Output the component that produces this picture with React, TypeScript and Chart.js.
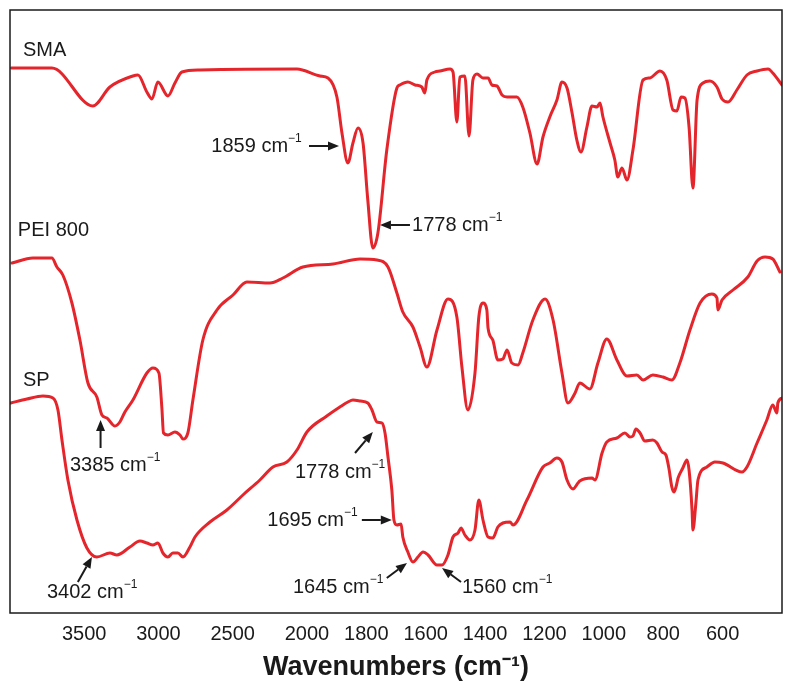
import React, { useEffect, useRef } from "react";
import { Chart, registerables } from "chart.js";
Chart.register(...registerables);

// Wavenumber axis: above 2000 cm-1 the scale is compressed by a factor of two.
const BREAK_WN = 2000;
const X_LEFT_WN = 4000;
const X_RIGHT_WN = 400;
const TICK_WAVENUMBERS = [3500, 3000, 2500, 2000, 1800, 1600, 1400, 1200, 1000, 800, 600];
const Y_MIN = 0;
const Y_MAX = 603;

// [wavenumber (cm-1), transmittance (a.u., offset)]
const SMA: [number, number][] = [
  [3990, 545], [3718, 545], [3442, 507], [3327, 526], [3172, 537], [3138, 538], [3078, 521], [3044, 514],
  [3004, 531], [2936, 517], [2889, 530], [2842, 541], [2721, 543], [2067, 544], [1956, 537], [1929, 535],
  [1899, 516], [1882, 480], [1862, 450], [1845, 470], [1828, 485], [1811, 470], [1795, 413], [1778, 365],
  [1761, 380], [1731, 463], [1697, 525], [1687, 528], [1660, 531], [1636, 528], [1613, 526], [1603, 520],
  [1596, 533], [1569, 541], [1552, 542], [1518, 544], [1508, 541], [1495, 491], [1485, 536], [1468, 537],
  [1454, 477], [1441, 533], [1427, 539], [1407, 535], [1390, 535], [1377, 528], [1360, 527], [1343, 518],
  [1326, 516], [1293, 516], [1273, 506], [1249, 480], [1225, 449], [1205, 476], [1182, 496], [1158, 513],
  [1141, 531], [1124, 525], [1107, 500], [1091, 473], [1077, 461], [1057, 486], [1040, 507], [1023, 506],
  [1013, 510], [1003, 496], [979, 470], [963, 453], [953, 436], [939, 445], [922, 433], [902, 463],
  [868, 533], [845, 535], [811, 542], [788, 533], [767, 503], [754, 502], [740, 516], [727, 515],
  [713, 486], [700, 425], [686, 513], [666, 530], [643, 532], [619, 526], [602, 514], [582, 511],
  [552, 523], [518, 538], [484, 542], [447, 544], [431, 540], [400, 528],
];

const PEI800: [number, number][] = [
  [3987, 350], [3846, 355], [3718, 355], [3684, 346], [3644, 338], [3583, 310], [3529, 273], [3475, 230],
  [3415, 216], [3381, 198], [3347, 195], [3293, 187], [3260, 191], [3226, 201], [3172, 213], [3078, 240],
  [3037, 245], [2997, 240], [2977, 205], [2966, 180], [2936, 178], [2889, 181], [2855, 178], [2835, 174],
  [2802, 180], [2768, 213], [2701, 273], [2606, 303], [2498, 318], [2404, 331], [2249, 330], [2162, 335],
  [2027, 346], [1912, 349], [1821, 354], [1764, 353], [1727, 346], [1697, 320], [1677, 301], [1643, 286],
  [1619, 266], [1596, 246], [1562, 283], [1525, 314], [1495, 296], [1478, 246], [1458, 203], [1434, 240],
  [1421, 296], [1407, 310], [1394, 303], [1390, 285], [1374, 273], [1357, 253], [1340, 254], [1326, 263],
  [1310, 250], [1289, 248], [1273, 260], [1239, 293], [1198, 314], [1171, 293], [1141, 240], [1121, 210],
  [1097, 220], [1081, 230], [1047, 224], [1020, 250], [990, 274], [956, 253], [922, 237], [889, 238],
  [868, 233], [835, 238], [801, 236], [771, 233], [744, 250], [710, 283], [676, 310], [636, 319],
  [619, 315], [616, 303], [602, 313], [565, 323], [515, 336], [484, 352], [457, 356], [431, 354],
  [407, 341],
];

const SP: [number, number][] = [
  [3995, 210], [3886, 214], [3778, 217], [3711, 215], [3677, 203], [3650, 173], [3610, 133], [3549, 93],
  [3482, 65], [3415, 56], [3327, 60], [3280, 58], [3192, 66], [3125, 72], [3078, 70], [3037, 68],
  [3004, 70], [2970, 60], [2936, 56], [2903, 60], [2869, 60], [2835, 56], [2788, 66], [2754, 76],
  [2653, 91], [2539, 103], [2431, 118], [2317, 133], [2229, 146], [2135, 151], [2067, 163], [2000, 181],
  [1933, 197], [1889, 206], [1862, 211], [1845, 213], [1820, 212], [1795, 210], [1781, 203], [1764, 191],
  [1747, 190], [1737, 180], [1727, 156], [1714, 123], [1707, 93], [1697, 88], [1683, 89], [1677, 76],
  [1660, 61], [1643, 51], [1626, 56], [1609, 61], [1592, 58], [1562, 48], [1545, 48], [1525, 58],
  [1508, 76], [1491, 80], [1481, 85], [1468, 78], [1451, 73], [1434, 83], [1421, 113], [1407, 93],
  [1390, 76], [1374, 75], [1357, 86], [1340, 90], [1316, 91], [1306, 88], [1259, 113], [1205, 146],
  [1182, 150], [1158, 155], [1141, 151], [1124, 133], [1104, 124], [1087, 130], [1081, 132], [1040, 135],
  [1030, 133], [1006, 160], [990, 171], [956, 175], [929, 180], [912, 176], [902, 177], [892, 184],
  [878, 180], [862, 172], [835, 173], [821, 170], [804, 161], [791, 158], [781, 145], [771, 126],
  [764, 121], [757, 126], [750, 135], [734, 145], [720, 153], [713, 143], [703, 103], [700, 83],
  [690, 110], [683, 133], [653, 146], [626, 151], [599, 150], [535, 141], [518, 146], [484, 170],
  [451, 193], [431, 208], [417, 200], [414, 210], [400, 215],
];

const SERIES_NAMES = ["SMA", "PEI 800", "SP"];
// [wavenumber, value] of the left/middle of each series name
const SERIES_NAME_POS: [number, number][] = [[3913, 563], [3947, 383], [3913, 233]];

type Ann = { num: string; align: "left" | "right"; tx: number; ty: number; from: [number, number]; to: [number, number] };
const ANNOTATIONS: Ann[] = [
  { num: "1859", align: "right", tx: 2035, ty: 467, from: [1993, 467], to: [1892, 467] },
  { num: "1778", align: "left", tx: 1646, ty: 388, from: [1653, 388], to: [1754, 388] },
  { num: "3385", align: "left", tx: 3596, ty: 148, from: [3390, 165], to: [3390, 193] },
  { num: "1778", align: "left", tx: 2081, ty: 141, from: [1838, 160], to: [1778, 181] },
  { num: "1695", align: "right", tx: 1829, ty: 93, from: [1815, 93], to: [1714, 93] },
  { num: "1645", align: "left", tx: 2094, ty: 26, from: [1731, 35], to: [1663, 50] },
  { num: "3402", align: "left", tx: 3751, ty: 21, from: [3543, 31], to: [3448, 56] },
  { num: "1560", align: "left", tx: 1478, ty: 26, from: [1481, 31], to: [1545, 45] },
];
const UNIT = " cm";
const UNIT_SUP = "\u22121";

function toAxis(w: number) {
  return w > BREAK_WN ? BREAK_WN + (w - BREAK_WN) / 2 : w;
}
function fromAxis(t: number) {
  return t > BREAK_WN ? BREAK_WN + (t - BREAK_WN) * 2 : t;
}

const FONT = '"Liberation Sans", Arial, sans-serif';
const RED = "#e4252b";
const INK = "#1a1a1a";

const overlayPlugin = {
  id: "overlay",
  afterDraw(chart: any) {
    const { ctx, chartArea: a, scales } = chart;
    const xs = scales.x;
    const ys = scales.y;
    const px = (w: number) => xs.getPixelForValue(toAxis(w));
    const py = (v: number) => ys.getPixelForValue(v);
    ctx.save();
    ctx.strokeStyle = INK;
    ctx.lineWidth = 1.5;
    ctx.strokeRect(a.left, a.top, a.right - a.left, a.bottom - a.top);

    ctx.fillStyle = INK;
    ctx.textBaseline = "middle";
    ctx.textAlign = "left";
    ctx.font = `20px ${FONT}`;
    SERIES_NAMES.forEach((n, i) => {
      const [w, v] = SERIES_NAME_POS[i];
      ctx.fillText(n, px(w), py(v));
    });

    ANNOTATIONS.forEach((an) => {
      ctx.font = `20px ${FONT}`;
      const main = an.num + UNIT;
      const mw = ctx.measureText(main).width;
      ctx.font = `12px ${FONT}`;
      const sw = ctx.measureText(UNIT_SUP).width;
      let x0 = px(an.tx);
      const y0 = py(an.ty);
      if (an.align === "right") x0 = x0 - mw - sw;
      ctx.font = `20px ${FONT}`;
      ctx.fillText(main, x0, y0);
      ctx.font = `12px ${FONT}`;
      ctx.fillText(UNIT_SUP, x0 + mw, y0 - 7);

      const x1 = px(an.from[0]);
      const y1 = py(an.from[1]);
      const x2 = px(an.to[0]);
      const y2 = py(an.to[1]);
      const ang = Math.atan2(y2 - y1, x2 - x1);
      const hl = 11;
      const hw = 4.5;
      const bx = x2 - hl * Math.cos(ang);
      const by = y2 - hl * Math.sin(ang);
      ctx.lineWidth = 2;
      ctx.beginPath();
      ctx.moveTo(x1, y1);
      ctx.lineTo(bx, by);
      ctx.stroke();
      ctx.beginPath();
      ctx.moveTo(x2, y2);
      ctx.lineTo(bx + hw * Math.sin(ang), by - hw * Math.cos(ang));
      ctx.lineTo(bx - hw * Math.sin(ang), by + hw * Math.cos(ang));
      ctx.closePath();
      ctx.fill();
    });
    ctx.restore();
  },
};

export default function App() {
  const ref = useRef<HTMLCanvasElement | null>(null);
  useEffect(() => {
    if (!ref.current) return;
    const mk = (d: [number, number][]) => d.map(([w, v]) => ({ x: toAxis(w), y: v }));
    const ds = (label: string, d: [number, number][]) => ({
      label,
      data: mk(d),
      borderColor: RED,
      borderWidth: 3,
      pointRadius: 0,
      fill: false,
      cubicInterpolationMode: "monotone" as const,
      borderJoinStyle: "round" as const,
      borderCapStyle: "round" as const,
    });
    const chart = new Chart(ref.current, {
      type: "line",
      data: {
        datasets: [ds(SERIES_NAMES[0], SMA), ds(SERIES_NAMES[1], PEI800), ds(SERIES_NAMES[2], SP)],
      },
      options: {
        animation: false,
        responsive: false,
        layout: { padding: { left: 10, right: 12, top: 10, bottom: 0 } },
        plugins: { legend: { display: false }, tooltip: { enabled: false } },
        scales: {
          x: {
            type: "linear",
            reverse: true,
            min: toAxis(X_RIGHT_WN),
            max: toAxis(X_LEFT_WN),
            grid: { display: false, drawTicks: false },
            border: { display: false },
            afterBuildTicks: (scale: any) => {
              scale.ticks = TICK_WAVENUMBERS.map((w) => ({ value: toAxis(w) }));
            },
            afterFit: (scale: any) => {
              scale.height = 79;
            },
            ticks: {
              autoSkip: false,
              maxRotation: 0,
              padding: 9,
              color: INK,
              font: { family: FONT, size: 20 },
              callback: (value: any) => String(Math.round(fromAxis(Number(value)))),
            },
            title: {
              display: true,
              text: "Wavenumbers (cm\u207B\u00B9)",
              color: INK,
              font: { family: FONT, size: 27, weight: "bold" },
              padding: { top: 0, bottom: 8 },
            },
          },
          y: {
            display: false,
            min: Y_MIN,
            max: Y_MAX,
          },
        },
      },
      plugins: [overlayPlugin],
    });
    return () => chart.destroy();
  }, []);
  return (
    <div style={{ position: "absolute", left: 0, top: 0, width: 794, height: 692, background: "#fff" }}>
      <canvas ref={ref} width={794} height={692} style={{ display: "block" }} />
    </div>
  );
}
